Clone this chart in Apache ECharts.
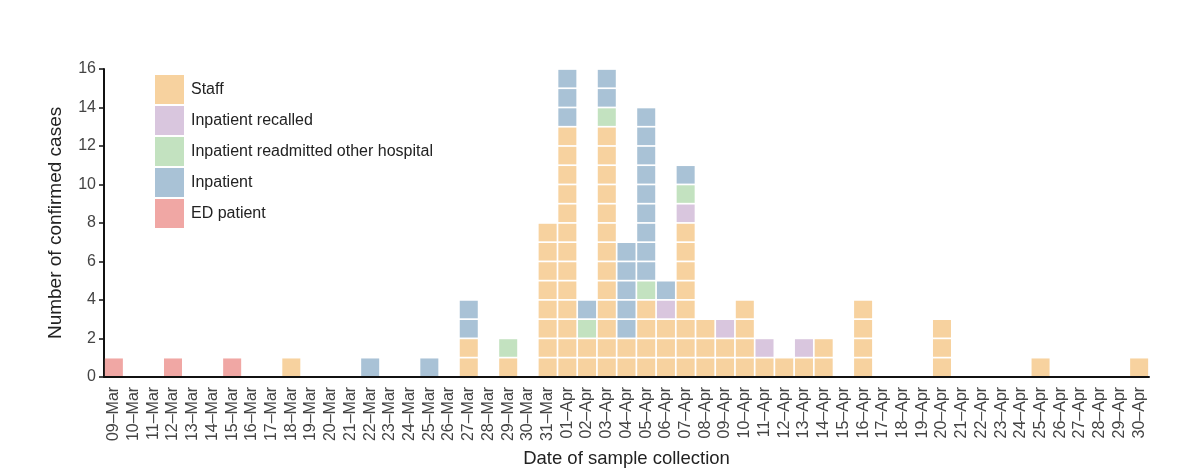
<!DOCTYPE html>
<html>
<head>
<meta charset="utf-8">
<script src="https://cdn.jsdelivr.net/npm/echarts@6/dist/echarts.min.js"></script>
<style>
  html, body { margin: 0; padding: 0; background: #fff; }
  #main { width: 1200px; height: 473px; }
</style>
</head>
<body>
<div id="main"></div>
<script>
var dates = ['09–Mar','10–Mar','11–Mar','12–Mar','13–Mar','14–Mar','15–Mar','16–Mar','17–Mar','18–Mar',
  '19–Mar','20–Mar','21–Mar','22–Mar','23–Mar','24–Mar','25–Mar','26–Mar','27–Mar','28–Mar','29–Mar','30–Mar','31–Mar',
  '01–Apr','02–Apr','03–Apr','04–Apr','05–Apr','06–Apr','07–Apr','08–Apr','09–Apr','10–Apr','11–Apr','12–Apr','13–Apr',
  '14–Apr','15–Apr','16–Apr','17–Apr','18–Apr','19–Apr','20–Apr','21–Apr','22–Apr','23–Apr','24–Apr','25–Apr','26–Apr',
  '27–Apr','28–Apr','29–Apr','30–Apr'];

//            09 10 11 12 13 14 15 16 17 18 19 20 21 22 23 24 25 26 27 28 29 30 31 01 02 03 04 05 06 07 08 09 10 11 12 13 14 15 16 17 18 19 20 21 22 23 24 25 26 27 28 29 30
var staff =      [0, 0, 0, 0, 0, 0, 0, 0, 0, 1, 0, 0, 0, 0, 0, 0, 0, 0, 2, 0, 1, 0, 8,13, 2,13, 2, 4, 3, 8, 3, 2, 4, 1, 1, 1, 2, 0, 4, 0, 0, 0, 3, 0, 0, 0, 0, 1, 0, 0, 0, 0, 1];
var recalled =   [0, 0, 0, 0, 0, 0, 0, 0, 0, 0, 0, 0, 0, 0, 0, 0, 0, 0, 0, 0, 0, 0, 0, 0, 0, 0, 0, 0, 1, 1, 0, 1, 0, 1, 0, 1, 0, 0, 0, 0, 0, 0, 0, 0, 0, 0, 0, 0, 0, 0, 0, 0, 0];
var readmitted = [0, 0, 0, 0, 0, 0, 0, 0, 0, 0, 0, 0, 0, 0, 0, 0, 0, 0, 0, 0, 1, 0, 0, 0, 1, 1, 0, 1, 0, 1, 0, 0, 0, 0, 0, 0, 0, 0, 0, 0, 0, 0, 0, 0, 0, 0, 0, 0, 0, 0, 0, 0, 0];
var inpatient =  [0, 0, 0, 0, 0, 0, 0, 0, 0, 0, 0, 0, 0, 1, 0, 0, 1, 0, 2, 0, 0, 0, 0, 3, 1, 2, 5, 9, 1, 1, 0, 0, 0, 0, 0, 0, 0, 0, 0, 0, 0, 0, 0, 0, 0, 0, 0, 0, 0, 0, 0, 0, 0];
var edPatient =  [1, 0, 0, 1, 0, 0, 1, 0, 0, 0, 0, 0, 0, 0, 0, 0, 0, 0, 0, 0, 0, 0, 0, 0, 0, 0, 0, 0, 0, 0, 0, 0, 0, 0, 0, 0, 0, 0, 0, 0, 0, 0, 0, 0, 0, 0, 0, 0, 0, 0, 0, 0, 0];

var yTicks = [0, 2, 4, 6, 8, 10, 12, 14, 16];

// stacked bottom to top
var groups = [
  { name: 'Staff', values: staff, color: '#f7d29f' },
  { name: 'Inpatient recalled', values: recalled, color: '#d9c6de' },
  { name: 'Inpatient readmitted other hospital', values: readmitted, color: '#c3e2c0' },
  { name: 'Inpatient', values: inpatient, color: '#a9c2d6' },
  { name: 'ED patient', values: edPatient, color: '#f0a7a4' }
];

var GAP = 1.7; // white gap between cells

// every case is drawn as its own cell
function renderCells(params, api) {
  var idx = api.value(0), base = api.value(1), n = api.value(2);
  var w = api.size([1, 0])[0] - GAP;
  var children = [];
  for (var k = 0; k < n; k++) {
    var p0 = api.coord([idx, base + k]);
    var p1 = api.coord([idx, base + k + 1]);
    children.push({
      type: 'rect',
      shape: { x: p0[0] - w / 2, y: p1[1] + GAP / 2, width: w, height: p0[1] - p1[1] - GAP },
      style: { fill: api.visual('color') }
    });
  }
  return { type: 'group', children: children };
}

var running = dates.map(function () { return 0; });
var series = groups.map(function (g) {
  var data = [];
  g.values.forEach(function (v, i) {
    if (v > 0) data.push([i, running[i], v]);
    running[i] += v;
  });
  return {
    name: g.name,
    type: 'custom',
    renderItem: renderCells,
    itemStyle: { color: g.color },
    encode: { x: 0, y: 1 },
    data: data
  };
});

var myChart = echarts.init(document.getElementById('main'));
var option = {
  backgroundColor: '#fff',
  textStyle: { fontFamily: 'Liberation Sans, Arial, sans-serif' },
  legend: {
    orient: 'vertical',
    left: 150,
    top: 70,
    icon: 'rect',
    itemWidth: 29,
    itemHeight: 29,
    itemGap: 2,
    data: groups.map(function (g) { return g.name; }),
    textStyle: { fontSize: 16, color: '#222', padding: [0, 0, 0, 2] }
  },
  grid: { left: 104, right: 51, top: 69, bottom: 93 },
  xAxis: {
    type: 'category',
    data: dates,
    name: 'Date of sample collection',
    nameLocation: 'middle',
    nameGap: 68,
    nameTextStyle: { fontSize: 18.5, color: '#222' },
    axisLine: { lineStyle: { color: '#111', width: 2 } },
    axisTick: { alignWithLabel: true, length: 5, lineStyle: { color: '#111', width: 1.5 } },
    axisLabel: { rotate: 90, interval: 0, fontSize: 16, color: '#444', margin: 10 }
  },
  yAxis: {
    type: 'value',
    min: yTicks[0],
    max: yTicks[yTicks.length - 1],
    interval: yTicks[1] - yTicks[0],
    name: 'Number of confirmed cases',
    nameLocation: 'middle',
    nameGap: 39,
    nameTextStyle: { fontSize: 19, color: '#222' },
    axisLine: { show: true, lineStyle: { color: '#111', width: 2 } },
    axisTick: { show: true, length: 5, lineStyle: { color: '#111', width: 1.5 } },
    axisLabel: { fontSize: 16, color: '#444', margin: 8 },
    splitLine: { show: false }
  },
  series: series
};
myChart.setOption(option);
</script>
</body>
</html>
